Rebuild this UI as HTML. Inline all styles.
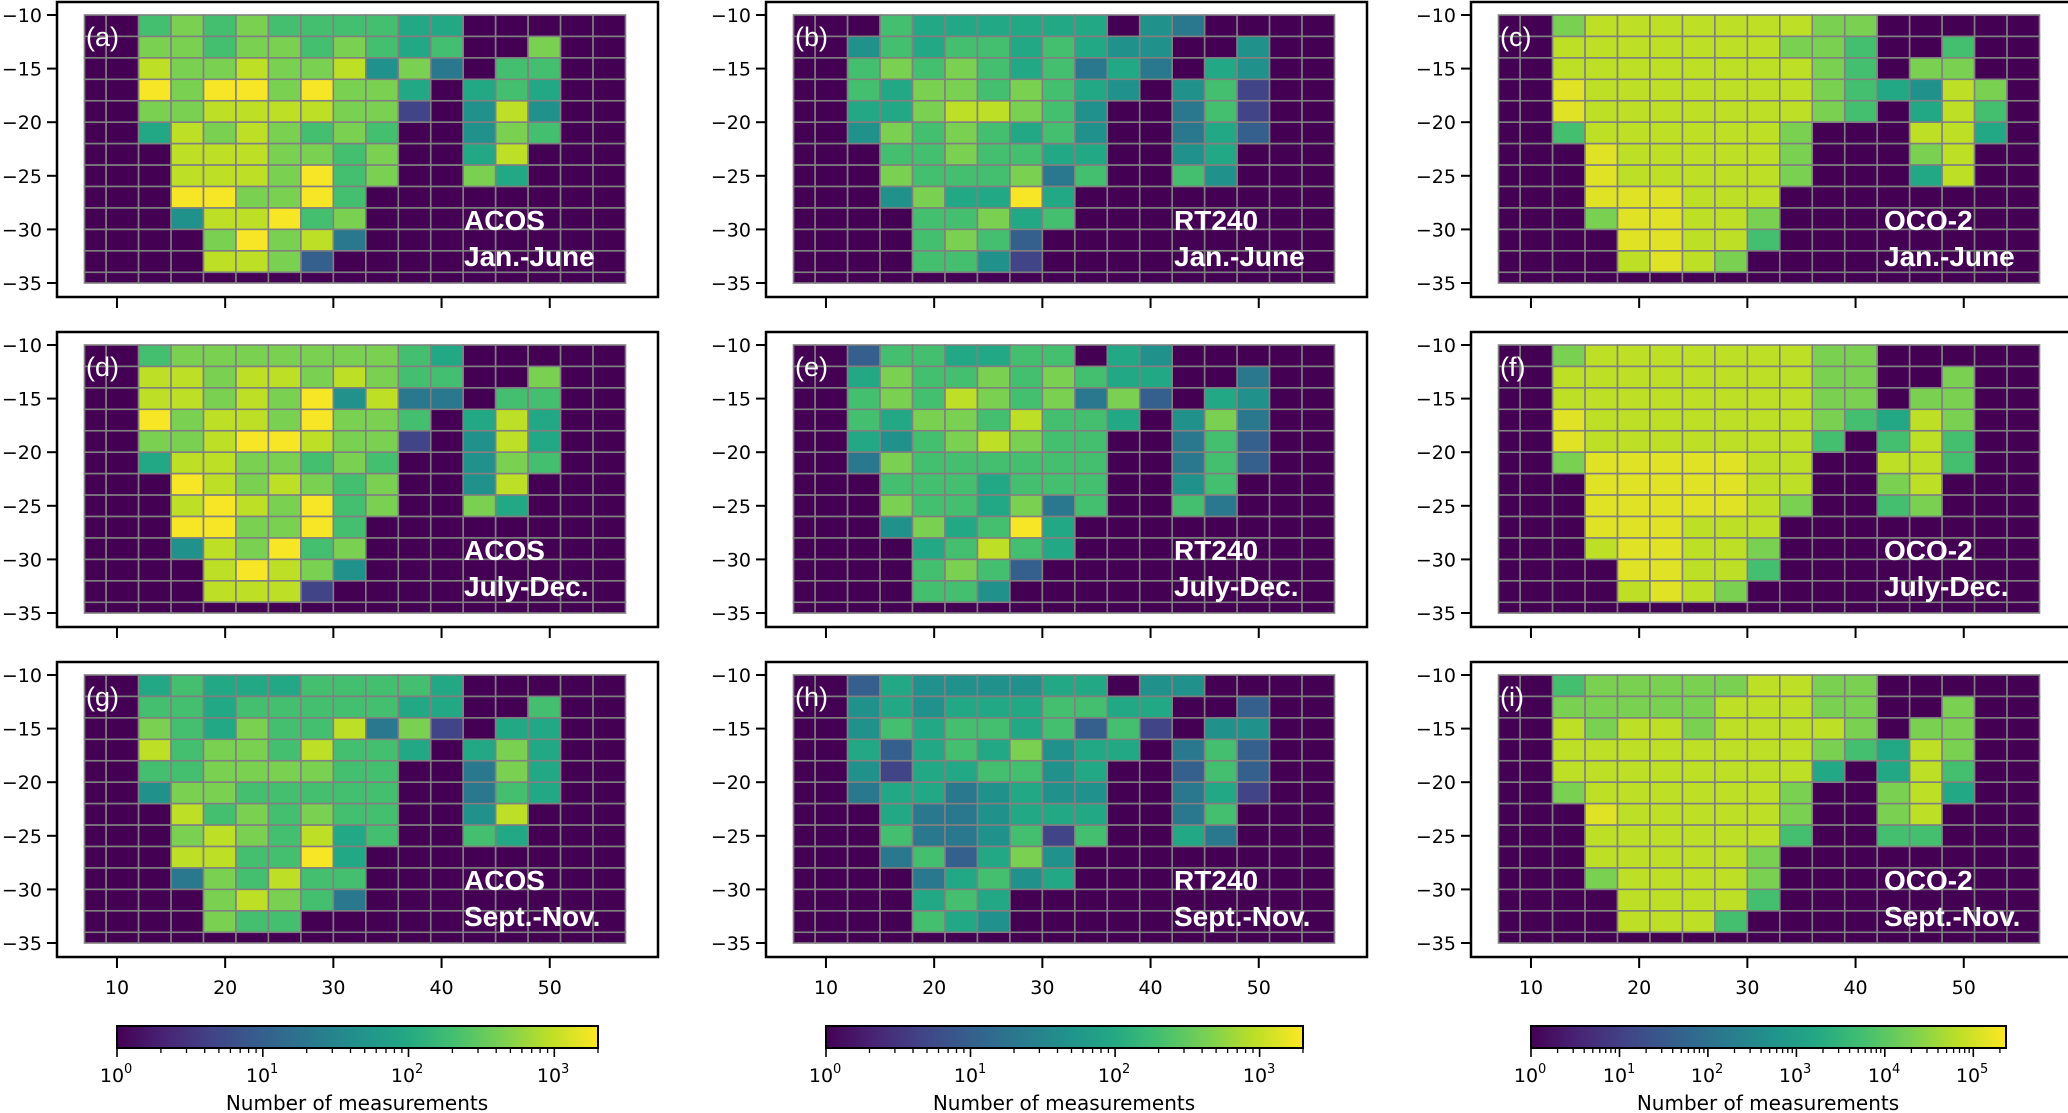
<!DOCTYPE html>
<html><head><meta charset="utf-8"><style>
html,body{margin:0;padding:0;background:#fff;}
svg{display:block;}
</style></head><body>
<svg id="fig" width="2068" height="1113" viewBox="0 0 2068 1113" xmlns="http://www.w3.org/2000/svg">
<defs>
<linearGradient id="virgrad" x1="0" x2="1" y1="0" y2="0">
<stop offset="0" stop-color="#440154"/><stop offset="0.1" stop-color="#482475"/><stop offset="0.2" stop-color="#414487"/><stop offset="0.3" stop-color="#355f8d"/><stop offset="0.4" stop-color="#2a788e"/><stop offset="0.5" stop-color="#21918c"/><stop offset="0.6" stop-color="#22a884"/><stop offset="0.7" stop-color="#44bf70"/><stop offset="0.8" stop-color="#7ad151"/><stop offset="0.9" stop-color="#bddf26"/><stop offset="1" stop-color="#fde725"/>
</linearGradient>
</defs>
<g font-family="DejaVu Sans, sans-serif" font-size="19" fill="#000">
<g>
<rect x="117" y="1026" width="481" height="22" fill="url(#virgrad)" stroke="#000" stroke-width="2"/>
<path d="M160.9 1048v5M186.5 1048v5M204.7 1048v5M218.9 1048v5M230.4 1048v5M240.2 1048v5M248.6 1048v5M256.1 1048v5M306.7 1048v5M332.3 1048v5M350.5 1048v5M364.7 1048v5M376.2 1048v5M386 1048v5M394.4 1048v5M401.9 1048v5M452.4 1048v5M478 1048v5M496.2 1048v5M510.4 1048v5M521.9 1048v5M531.7 1048v5M540.1 1048v5M547.6 1048v5M598 1048v5" stroke="#000" stroke-width="1.3"/>
<path d="M117 1048v9M262.8 1048v9M408.5 1048v9M554.3 1048v9" stroke="#000" stroke-width="1.6"/>
<text x="112" y="1082" text-anchor="middle">10</text><text x="124" y="1073" font-size="13">0</text>
<text x="258" y="1082" text-anchor="middle">10</text><text x="270" y="1073" font-size="13">1</text>
<text x="403" y="1082" text-anchor="middle">10</text><text x="415" y="1073" font-size="13">2</text>
<text x="549" y="1082" text-anchor="middle">10</text><text x="561" y="1073" font-size="13">3</text>
<text x="357" y="1110" text-anchor="middle" font-size="20">Number of measurements</text>
</g>
<g>
<rect x="826" y="1026" width="477" height="22" fill="url(#virgrad)" stroke="#000" stroke-width="2"/>
<path d="M869.5 1048v5M894.9 1048v5M913 1048v5M927 1048v5M938.5 1048v5M948.1 1048v5M956.5 1048v5M963.9 1048v5M1014 1048v5M1039.4 1048v5M1057.5 1048v5M1071.5 1048v5M1083 1048v5M1092.6 1048v5M1101 1048v5M1108.4 1048v5M1158.6 1048v5M1184 1048v5M1202.1 1048v5M1216.1 1048v5M1227.6 1048v5M1237.2 1048v5M1245.6 1048v5M1253 1048v5M1303 1048v5" stroke="#000" stroke-width="1.3"/>
<path d="M826 1048v9M970.5 1048v9M1115.1 1048v9M1259.6 1048v9" stroke="#000" stroke-width="1.6"/>
<text x="821" y="1082" text-anchor="middle">10</text><text x="833" y="1073" font-size="13">0</text>
<text x="966" y="1082" text-anchor="middle">10</text><text x="978" y="1073" font-size="13">1</text>
<text x="1110" y="1082" text-anchor="middle">10</text><text x="1122" y="1073" font-size="13">2</text>
<text x="1255" y="1082" text-anchor="middle">10</text><text x="1267" y="1073" font-size="13">3</text>
<text x="1064" y="1110" text-anchor="middle" font-size="20">Number of measurements</text>
</g>
<g>
<rect x="1531" y="1026" width="475" height="22" fill="url(#virgrad)" stroke="#000" stroke-width="2"/>
<path d="M1557.6 1048v5M1573.2 1048v5M1584.2 1048v5M1592.8 1048v5M1599.8 1048v5M1605.7 1048v5M1610.9 1048v5M1615.4 1048v5M1646.1 1048v5M1661.7 1048v5M1672.7 1048v5M1681.3 1048v5M1688.3 1048v5M1694.2 1048v5M1699.4 1048v5M1703.9 1048v5M1734.5 1048v5M1750.1 1048v5M1761.1 1048v5M1769.7 1048v5M1776.7 1048v5M1782.6 1048v5M1787.8 1048v5M1792.3 1048v5M1823 1048v5M1838.6 1048v5M1849.6 1048v5M1858.2 1048v5M1865.2 1048v5M1871.1 1048v5M1876.3 1048v5M1880.8 1048v5M1911.4 1048v5M1927 1048v5M1938 1048v5M1946.6 1048v5M1953.6 1048v5M1959.5 1048v5M1964.7 1048v5M1969.2 1048v5M1999.9 1048v5" stroke="#000" stroke-width="1.3"/>
<path d="M1531 1048v9M1619.5 1048v9M1707.9 1048v9M1796.4 1048v9M1884.8 1048v9M1973.3 1048v9" stroke="#000" stroke-width="1.6"/>
<text x="1526" y="1082" text-anchor="middle">10</text><text x="1538" y="1073" font-size="13">0</text>
<text x="1615" y="1082" text-anchor="middle">10</text><text x="1627" y="1073" font-size="13">1</text>
<text x="1703" y="1082" text-anchor="middle">10</text><text x="1715" y="1073" font-size="13">2</text>
<text x="1791" y="1082" text-anchor="middle">10</text><text x="1803" y="1073" font-size="13">3</text>
<text x="1880" y="1082" text-anchor="middle">10</text><text x="1892" y="1073" font-size="13">4</text>
<text x="1968" y="1082" text-anchor="middle">10</text><text x="1980" y="1073" font-size="13">5</text>
<text x="1768" y="1110" text-anchor="middle" font-size="20">Number of measurements</text>
</g>
</g>
</svg>
<script>
// bin edges (longitude / latitude)
const lonEdges=[7,9,12,15,18,21,24,27,30,33,36,39,42,45,48,51,54,57];
const latEdges=[-10,-12,-14,-16,-18,-20,-22,-24,-26,-28,-30,-32,-34,-35];
const xTicks=[10,20,30,40,50];
const yTicks=[-10,-15,-20,-25,-30,-35];
// cell values: 0 = no data, 1..9 = normalised log count level
const acosJanJune=["00676766665500000","00776776765600700","00877877847306600","00979979775056500","00778888771048400","00587876760047600","00088877670058000","00088879670075000","00099779600000000","00048896700000000","00007978300000000","00008872000000000"];
const rtJanJune=["00065555550430000","00465665654400400","00676765635305400","00657767654046100","00557887640036100","00476765640035200","00066766550045000","00076667360064000","00047559500000000","00006675600000000","00006762000000000","00006641000000000"];
const ocoJanJune=["00788888887700000","00888888877600600","00888888887607700","00988888887654870","00988888887605860","00688888870008850","00098888870007800","00098888870005800","00099988800000000","00079988700000000","00009988600000000","00008987000000000"];
const acosJulDec=["00677777776500000","00887887876600700","00887879483306600","00978879776058500","00778998771048500","00588776760047600","00098787670048000","00089879670075000","00099779600000000","00048796700000000","00008987400000000","00008881000000000"];
const rtJulDec=["00266556605400000","00576676765500300","00676876737205400","00657768665047300","00546787660036200","00376666660036200","00066656660046000","00076657360063000","00047569500000000","00005686500000000","00006762000000000","00006640000000000"];
const ocoJulDec=["00788888887700000","00888888887700700","00888888887707700","00988888887658700","00988888886068600","00799999880088600","00099999880078000","00099999870067000","00099988800000000","00089988700000000","00009988600000000","00008987000000000"];
const acosSepNov=["00565556666500000","00665666665500600","00765766837105500","00867768665057500","00667777660037500","00477666660036500","00086767660048000","00078768560065000","00088669500000000","00037686600000000","00007876300000000","00007660000000000"];
const rtSepNov=["00254444550440000","00454555665500200","00465665626104400","00525657455036200","00415566450026200","00355345440035100","00053345550036000","00063346160053000","00036257400000000","00003564500000000","00005650000000000","00006540000000000"];
const ocoSepNov=["00677777887700000","00777778887700700","00878878888707700","00888888887658700","00888888885058600","00788888870078500","00098888870078000","00088888860066000","00088888700000000","00078888700000000","00008888600000000","00008886000000000"];
const emptyRow="00000000000000000";
const panelData=[acosJanJune,rtJanJune,ocoJanJune,acosJulDec,rtJulDec,ocoJulDec,acosSepNov,rtSepNov,ocoSepNov];
const panelLetters=["(a)","(b)","(c)","(d)","(e)","(f)","(g)","(h)","(i)"];
const productNames=["ACOS","RT240","OCO-2"];
const periodNames=["Jan.-June","July-Dec.","Sept.-Nov."];

const NS="http://www.w3.org/2000/svg";
const svg=document.getElementById('fig');
const vir=["#440154","#482475","#414487","#355f8d","#2a788e","#21918c","#22a884","#44bf70","#7ad151","#bddf26","#fde725"];
function hex(c){return [parseInt(c.slice(1,3),16),parseInt(c.slice(3,5),16),parseInt(c.slice(5,7),16)];}
function viridis(t){t=Math.max(0,Math.min(1,t));const p=t*10;const i=Math.min(9,Math.floor(p));const f=p-i;const a=hex(vir[i]),b=hex(vir[i+1]);return 'rgb('+a.map((v,k)=>Math.round(v+(b[k]-v)*f)).join(',')+')';}
function levelColor(d,isOco){if(d===0)return vir[0];if(d===9)return viridis(isOco?0.955:0.99);return viridis(0.1+0.1*d);}
function mk(tag,attrs,parent){const e=document.createElementNS(NS,tag);for(const k in attrs)e.setAttribute(k,attrs[k]);(parent||svg).appendChild(e);return e;}

const colOff=[0,709,1414], rowOff=[0,330,660];
for(let r=0;r<3;r++){for(let c=0;c<3;c++){
  const idx=r*3+c, ox=colOff[c], oy=rowOff[r];
  const xs=lon=>ox+84.5+(lon-7)*10.82;
  const ys=lat=>oy+15+(-10-lat)*10.72;
  const g=mk('g',{});
  
  
  const frame=mk('rect',{x:ox+57,y:oy+2,width:601,height:295,fill:'#fff',stroke:'#000','stroke-width':2.5},g);
  
  
  const rows=panelData[idx].concat([emptyRow]);
  for(let i=0;i<rows.length;i++){for(let j=0;j<lonEdges.length-1;j++){
    const d=parseInt(rows[i][j]);
    const x0=xs(lonEdges[j]),x1=xs(lonEdges[j+1]),y0=ys(latEdges[i]),y1=ys(latEdges[i+1]);
    const cell=mk('rect',{x:x0,y:y0,width:x1-x0,height:y1-y0,fill:levelColor(d,c===2),stroke:'#808080','stroke-width':1.6},g);
    
    
  }}
  yTicks.forEach(v=>{const y=ys(v);
    mk('line',{x1:ox+47,x2:ox+57,y1:y,y2:y,stroke:'#000','stroke-width':2},g);
    const t=mk('text',{x:ox+42,y:y+7,'text-anchor':'end','font-family':'DejaVu Sans, sans-serif','font-size':19,fill:'#000'},g);
    t.textContent='\u2212'+Math.abs(v);
    
    
  });
  xTicks.forEach(v=>{const x=xs(v);
    mk('line',{x1:x,x2:x,y1:oy+297,y2:oy+308,stroke:'#000','stroke-width':2},g);
    if(r===2){const t=mk('text',{x:x,y:oy+334,'text-anchor':'middle','font-family':'DejaVu Sans, sans-serif','font-size':19,fill:'#000'},g);
      t.textContent=String(v);
      
      }
  });
  const pl=mk('text',{x:ox+86,y:oy+46,'font-family':'Liberation Sans, sans-serif','font-size':27,fill:'#fff'},g);
  pl.textContent=panelLetters[idx];
  
  
  const ax=[464,465,470][c]+ox;
  const t1=mk('text',{x:ax,y:oy+230,'font-family':'Liberation Sans, sans-serif','font-weight':'bold','font-size':28,fill:'#fff'},g);
  t1.textContent=productNames[c];
  
  
  const t2=mk('text',{x:ax,y:oy+266,'font-family':'Liberation Sans, sans-serif','font-weight':'bold','font-size':28,fill:'#fff'},g);
  t2.textContent=periodNames[r];
  
  
}}
</script>
</body></html>
